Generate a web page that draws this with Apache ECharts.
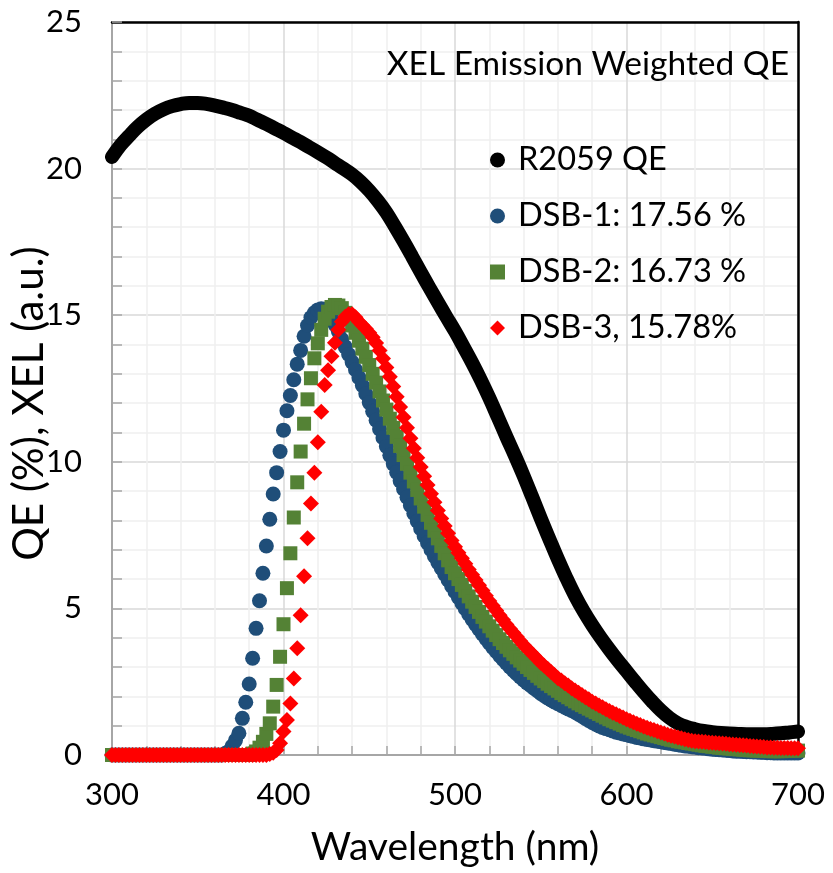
<!DOCTYPE html>
<html>
<head>
<meta charset="utf-8">
<title>XEL Emission Weighted QE</title>
<script src="https://cdn.jsdelivr.net/npm/echarts@6/dist/echarts.min.js"></script>
<style>
  html, body { margin: 0; padding: 0; background: #ffffff; }
  #chart { width: 833px; height: 873px; }
</style>
</head>
<body>
<div id="chart"></div>
<script>
// PMT quantum efficiency curve (nm -> %)
const qeWavelengths = [
  300,305,310,315,320,325,330,335,340,345,
  350,355,360,365,370,375,380,385,390,395,
  400,405,410,415,420,425,430,435,440,445,
  450,455,460,465,470,475,480,485,490,495,
  500,505,510,515,520,525,530,535,540,545,
  550,555,560,565,570,575,580,585,590,595,
  600,605,610,615,620,625,630,635,640,645,
  650,655,660,665,670,675,680,685,690,695,
  700
];
const qeR2059 = [
  20.4,20.8,21.12,21.42,21.67,21.87,22.02,22.13,22.2,22.24,
  22.24,22.21,22.15,22.08,22.0,21.9,21.8,21.66,21.52,21.37,
  21.22,21.06,20.9,20.73,20.56,20.38,20.19,20.0,19.8,19.55,
  19.25,18.9,18.5,18.02,17.52,17.0,16.47,15.95,15.44,14.94,
  14.45,13.92,13.38,12.8,12.18,11.52,10.85,10.2,9.52,8.8,
  8.07,7.37,6.68,6.03,5.43,4.9,4.43,4.0,3.6,3.22,
  2.86,2.5,2.15,1.82,1.52,1.27,1.08,0.96,0.88,0.82,
  0.78,0.75,0.73,0.72,0.71,0.71,0.71,0.72,0.74,0.77,
  0.8
];

// X-ray excited luminescence spectra, sampled every 2 nm
const xelWavelengths = [
  300,302,304,306,308,310,312,314,316,318,
  320,322,324,326,328,330,332,334,336,338,
  340,342,344,346,348,350,352,354,356,358,
  360,362,364,366,368,370,372,374,376,378,
  380,382,384,386,388,390,392,394,396,398,
  400,402,404,406,408,410,412,414,416,418,
  420,422,424,426,428,430,432,434,436,438,
  440,442,444,446,448,450,452,454,456,458,
  460,462,464,466,468,470,472,474,476,478,
  480,482,484,486,488,490,492,494,496,498,
  500,502,504,506,508,510,512,514,516,518,
  520,522,524,526,528,530,532,534,536,538,
  540,542,544,546,548,550,552,554,556,558,
  560,562,564,566,568,570,572,574,576,578,
  580,582,584,586,588,590,592,594,596,598,
  600,602,604,606,608,610,612,614,616,618,
  620,622,624,626,628,630,632,634,636,638,
  640,642,644,646,648,650,652,654,656,658,
  660,662,664,666,668,670,672,674,676,678,
  680,682,684,686,688,690,692,694,696,698,
  700
];
const xelDSB1 = [
  0,0,0,0,0,0,0,0,0,0,
  0,0,0,0,0,0,0,0,0,0,
  0,0,0,0,0,0,0,0,0,0,
  0,0,0,0.05,0.12,0.3,0.5,0.74,1.25,1.8,
  2.42,3.3,4.32,5.26,6.2,7.13,8.04,8.9,9.63,10.35,
  11.08,11.74,12.26,12.8,13.33,13.8,14.28,14.65,14.92,15.08,
  15.18,15.22,15.2,15.08,14.9,14.68,14.44,14.18,13.92,13.66,
  13.4,13.14,12.87,12.6,12.32,12.02,11.72,11.42,11.12,10.82,
  10.52,10.22,9.93,9.64,9.35,9.07,8.79,8.51,8.24,7.97,
  7.72,7.47,7.23,7.0,6.78,6.57,6.37,6.17,5.97,5.77,
  5.57,5.37,5.18,4.99,4.8,4.62,4.45,4.29,4.13,3.97,
  3.82,3.67,3.53,3.39,3.26,3.13,3.0,2.88,2.77,2.66,
  2.56,2.46,2.37,2.28,2.19,2.1,2.02,1.95,1.88,1.81,
  1.75,1.69,1.63,1.57,1.52,1.46,1.39,1.32,1.25,1.18,
  1.11,1.05,0.99,0.94,0.9,0.86,0.82,0.78,0.75,0.72,
  0.69,0.66,0.63,0.6,0.58,0.55,0.53,0.51,0.49,0.47,
  0.45,0.43,0.41,0.39,0.37,0.35,0.33,0.31,0.3,0.28,
  0.27,0.25,0.24,0.23,0.21,0.2,0.19,0.18,0.17,0.16,
  0.15,0.14,0.13,0.13,0.12,0.11,0.11,0.1,0.1,0.09,
  0.09,0.08,0.08,0.07,0.07,0.07,0.07,0.07,0.07,0.07,
  0.07
];
const xelDSB2 = [
  0,0,0,0,0,0,0,0,0,0,
  0,0,0,0,0,0,0,0,0,0,
  0,0,0,0,0,0,0,0,0,0,
  0,0,0,0,0,0,0,0,0,0,
  0,0.05,0.12,0.25,0.45,0.72,1.08,1.65,2.39,3.35,
  4.46,5.69,6.88,8.1,9.3,10.35,11.3,12.13,12.85,13.53,
  14.04,14.5,14.88,15.12,15.28,15.35,15.33,15.24,15.08,14.88,
  14.65,14.4,14.13,13.86,13.58,13.3,13.0,12.7,12.4,12.09,
  11.78,11.47,11.16,10.85,10.54,10.23,9.93,9.63,9.33,9.04,
  8.75,8.47,8.19,7.92,7.65,7.39,7.13,6.88,6.64,6.41,
  6.2,6.0,5.8,5.6,5.41,5.23,5.05,4.88,4.71,4.55,
  4.39,4.24,4.09,3.95,3.82,3.69,3.57,3.45,3.33,3.22,
  3.11,3.0,2.9,2.8,2.7,2.61,2.52,2.43,2.35,2.27,
  2.19,2.11,2.04,1.97,1.9,1.83,1.76,1.7,1.64,1.58,
  1.52,1.46,1.4,1.34,1.28,1.22,1.17,1.12,1.07,1.02,
  0.97,0.93,0.89,0.85,0.81,0.77,0.73,0.7,0.67,0.64,
  0.61,0.58,0.55,0.52,0.5,0.47,0.45,0.43,0.41,0.39,
  0.37,0.35,0.33,0.31,0.3,0.28,0.27,0.25,0.24,0.23,
  0.22,0.21,0.2,0.19,0.18,0.17,0.16,0.16,0.15,0.15,
  0.14,0.14,0.13,0.13,0.13,0.13,0.14,0.14,0.15,0.15,
  0.15
];
const xelDSB3 = [
  0,0,0,0,0,0,0,0,0,0,
  0,0,0,0,0,0,0,0,0,0,
  0,0,0,0,0,0,0,0,0,0,
  0,0,0,0,0,0,0,0,0,0,
  0,0,0,0,0,0,0.03,0.08,0.17,0.4,
  0.8,1.19,1.76,2.61,3.64,4.77,6.1,7.39,8.58,9.63,
  10.67,11.71,12.62,13.12,13.6,14.06,14.5,14.78,14.95,15.03,
  15.03,14.93,14.78,14.66,14.54,14.4,14.25,14.05,13.8,13.52,
  13.22,12.9,12.57,12.22,11.87,11.52,11.16,10.8,10.46,10.14,
  9.82,9.51,9.21,8.91,8.62,8.34,8.07,7.81,7.56,7.32,
  7.1,6.9,6.71,6.52,6.33,6.15,5.97,5.79,5.61,5.43,
  5.25,5.09,4.93,4.77,4.61,4.45,4.31,4.17,4.03,3.89,
  3.75,3.63,3.51,3.39,3.27,3.15,3.04,2.94,2.83,2.73,
  2.62,2.54,2.45,2.37,2.28,2.2,2.12,2.05,1.97,1.9,
  1.82,1.76,1.69,1.63,1.56,1.5,1.44,1.39,1.33,1.28,
  1.22,1.17,1.12,1.07,1.02,0.97,0.93,0.89,0.85,0.81,
  0.77,0.73,0.69,0.66,0.63,0.6,0.57,0.54,0.51,0.49,
  0.47,0.46,0.45,0.44,0.43,0.42,0.41,0.4,0.39,0.38,
  0.37,0.36,0.35,0.34,0.33,0.32,0.31,0.3,0.29,0.28,
  0.27,0.26,0.26,0.25,0.25,0.24,0.24,0.24,0.23,0.23,
  0.23
];

const seriesNames = ['R2059 QE', 'DSB-1: 17.56 %', 'DSB-2: 16.73 %', 'DSB-3, 15.78%'];
const seriesColors = ['#000000', '#1F4E79', '#548235', '#FF0000'];
const xTicks = { min: 300, max: 700, step: 100 };
const yTicks = { min: 0, max: 25, step: 5 };

const FONT = 'Lato, "Open Sans", sans-serif';
const pairs = (xs, ys) => xs.map((x, i) => [x, ys[i]]);

const chart = echarts.init(document.getElementById('chart'), null, { renderer: 'canvas' });

const axisGrey = '#a6a6a6';

chart.setOption({
  animation: false,
  backgroundColor: '#ffffff',
  textStyle: { fontFamily: FONT },
  grid: { left: 112, right: 35, top: 22, bottom: 118, containLabel: false, outerBoundsMode: 'none' },
  title: {
    text: 'XEL Emission Weighted QE',
    right: 39,
    top: 42,
    textStyle: { fontFamily: FONT, fontSize: 33.5, fontWeight: 'normal', color: '#000' }
  },
  legend: {
    orient: 'vertical',
    left: 485,
    top: 137,
    itemWidth: 15,
    itemHeight: 15,
    itemGap: 20,
    selectedMode: false,
    textStyle: { fontFamily: FONT, fontSize: 32.5, lineHeight: 36, color: '#000', padding: [0, 0, 0, 8] },
    data: [
      { name: seriesNames[0], icon: 'circle', itemStyle: { color: seriesColors[0] } },
      { name: seriesNames[1], icon: 'circle' },
      { name: seriesNames[2], icon: 'rect' },
      { name: seriesNames[3], icon: 'diamond' }
    ]
  },
  xAxis: [
    {
      type: 'value',
      position: 'bottom',
      min: xTicks.min, max: xTicks.max, interval: xTicks.step,
      name: 'Wavelength (nm)',
      nameLocation: 'middle',
      nameGap: 73,
      nameMoveOverlap: false,
      nameTextStyle: { fontFamily: FONT, fontSize: 39, color: '#000' },
      axisLine: { show: true, onZero: false, lineStyle: { color: axisGrey, width: 2 } },
      axisTick: { show: true, inside: true, length: 9, lineStyle: { color: axisGrey, width: 1.5 } },
      minorTick: { show: true, splitNumber: 5, length: 9, lineStyle: { color: axisGrey, width: 1.5 } },
      axisLabel: { fontFamily: FONT, fontSize: 31, color: '#000', margin: 24 },
      splitLine: { show: true, lineStyle: { color: '#d9d9d9', width: 1.5 } },
      minorSplitLine: { show: true, lineStyle: { color: '#efefef', width: 1.5 } }
    },
    {
      type: 'value',
      position: 'top',
      min: xTicks.min, max: xTicks.max, interval: xTicks.step,
      axisLine: { show: true, onZero: false, lineStyle: { color: '#000', width: 2.5 } },
      axisTick: { show: false },
      axisLabel: { show: false },
      splitLine: { show: false }
    }
  ],
  yAxis: [
    {
      type: 'value',
      position: 'left',
      min: yTicks.min, max: yTicks.max, interval: yTicks.step,
      name: 'QE (%), XEL (a.u.)',
      nameLocation: 'middle',
      nameGap: 62,
      nameMoveOverlap: false,
      nameTextStyle: { fontFamily: FONT, fontSize: 42, color: '#000', padding: [0, 30, 0, 0] },
      axisLine: { show: true, onZero: false, lineStyle: { color: axisGrey, width: 2 } },
      axisTick: { show: true, inside: true, length: 10, lineStyle: { color: axisGrey, width: 1.5 } },
      minorTick: { show: true, splitNumber: 5, length: 10, lineStyle: { color: axisGrey, width: 1.5 } },
      axisLabel: { fontFamily: FONT, fontSize: 31, color: '#000', margin: 30 },
      splitLine: { show: true, lineStyle: { color: '#d9d9d9', width: 1.5 } },
      minorSplitLine: { show: true, lineStyle: { color: '#efefef', width: 1.5 } }
    },
    {
      type: 'value',
      position: 'right',
      min: yTicks.min, max: yTicks.max, interval: yTicks.step,
      axisLine: { show: true, onZero: false, lineStyle: { color: '#000', width: 2.5 } },
      axisTick: { show: false },
      axisLabel: { show: false },
      splitLine: { show: false }
    }
  ],
  series: [
    {
      name: seriesNames[0],
      type: 'line',
      data: pairs(qeWavelengths, qeR2059),
      smooth: 0.4,
      showSymbol: false,
      symbol: 'circle',
      clip: false,
      itemStyle: { color: seriesColors[0] },
      lineStyle: { color: seriesColors[0], width: 14, cap: 'round', join: 'round' },
      z: 2
    },
    {
      name: seriesNames[1],
      type: 'scatter',
      data: pairs(xelWavelengths, xelDSB1),
      symbol: 'circle',
      symbolSize: 15,
      clip: false,
      itemStyle: { color: seriesColors[1], opacity: 1 },
      z: 3
    },
    {
      name: seriesNames[2],
      type: 'scatter',
      data: pairs(xelWavelengths, xelDSB2),
      symbol: 'rect',
      symbolSize: 14,
      clip: false,
      itemStyle: { color: seriesColors[2], opacity: 1 },
      z: 4
    },
    {
      name: seriesNames[3],
      type: 'scatter',
      data: pairs(xelWavelengths, xelDSB3),
      symbol: 'diamond',
      symbolSize: 16,
      clip: false,
      itemStyle: { color: seriesColors[3], opacity: 1 },
      z: 5
    }
  ]
});
</script>
</body>
</html>
